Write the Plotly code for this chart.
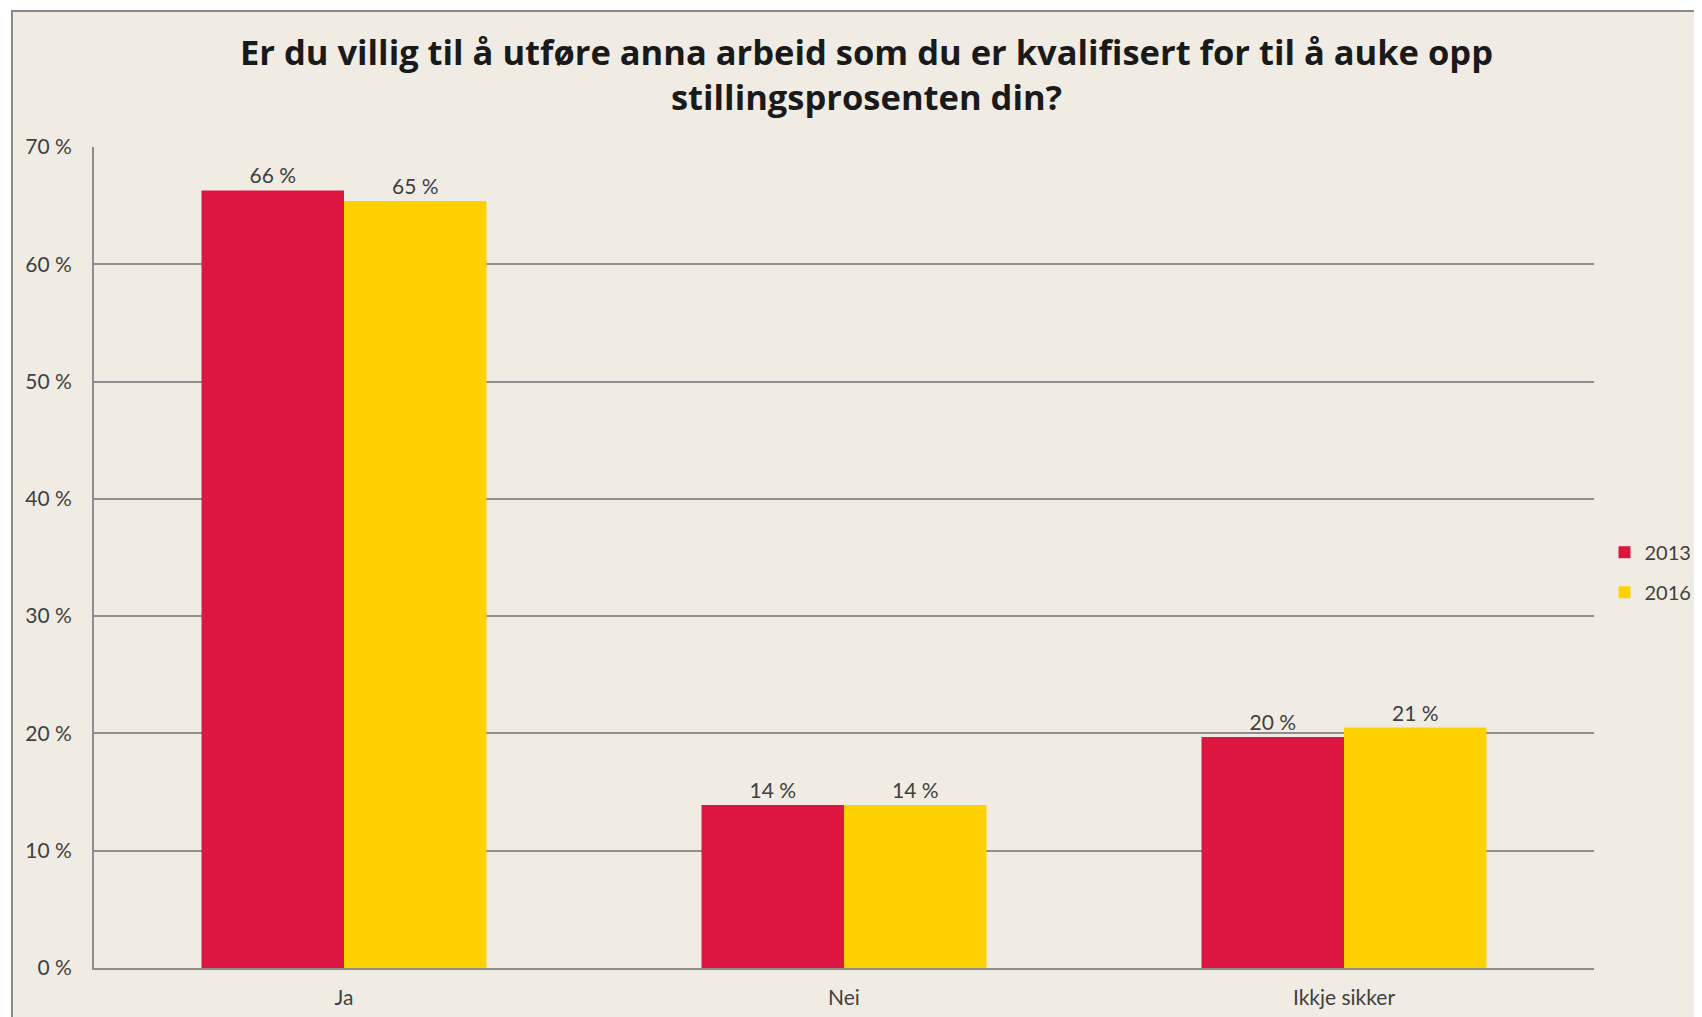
import plotly.graph_objects as go

# --- data ---
categories = ["Ja", "Nei", "Ikkje sikker"]
years = ["2013", "2016"]
values_2013 = [66.3, 13.9, 19.7]
values_2016 = [65.4, 13.9, 20.5]
labels_2013 = ["66 %", "14 %", "20 %"]
labels_2016 = ["65 %", "14 %", "21 %"]
y_ticks = [0, 10, 20, 30, 40, 50, 60, 70]
y_tick_labels = ["0 %", "10 %", "20 %", "30 %", "40 %", "50 %", "60 %", "70 %"]

BG = "#F0ECE4"
GRID = "#8E8E8E"
TEXT = "#404040"
FONT = "Lato"

fig = go.Figure()

fig.add_trace(go.Bar(
    x=categories, y=values_2013, name=years[0], legendgroup="a",
    marker_color="#DC1641", marker_line_width=0,
    text=labels_2013, textposition="outside", cliponaxis=False,
    textfont=dict(family=FONT, size=21, color=TEXT),
))
fig.add_trace(go.Bar(
    x=categories, y=values_2016, name=years[1], legendgroup="b",
    marker_color="#FFD100", marker_line_width=0,
    text=labels_2016, textposition="outside", cliponaxis=False,
    textfont=dict(family=FONT, size=21, color=TEXT),
))

# frame behind the chart (cut off on right / bottom like the original)
fig.add_shape(
    type="rect", xref="paper", yref="paper", layer="below",
    x0=-0.0547, x1=1.2, y0=-0.12, y1=1.1657,
    fillcolor=BG, line=dict(color="#8A8A8A", width=2),
)

# title as an annotation so both lines sit where they should
fig.add_annotation(
    text="<b>Er du villig til å utføre anna arbeid som du er kvalifisert for til å auke opp<br>stillingsprosenten din?</b>",
    xref="paper", yref="paper", x=0.515, y=1.147,
    xanchor="center", yanchor="top", showarrow=False,
    font=dict(family="Open Sans", size=34.5, color="#1A1A1A"),
)

fig.update_layout(
    width=1702, height=1017,
    margin=dict(l=86, r=116, t=139, b=57, autoexpand=False),
    paper_bgcolor="white",
    plot_bgcolor="rgba(0,0,0,0)",
    barmode="group",
    bargap=0.43,
    bargroupgap=0,
    font=dict(family=FONT, color=TEXT),
    legend=dict(
        x=1.007, y=0.482, xanchor="left", yanchor="middle",
        font=dict(family=FONT, size=20, color=TEXT),
        bgcolor="rgba(0,0,0,0)", tracegroupgap=11, traceorder="grouped",
    ),
    showlegend=True,
)

fig.update_yaxes(
    range=[0, 70], tickvals=y_ticks, ticktext=y_tick_labels,
    showgrid=True, gridcolor=GRID, gridwidth=2,
    showline=True, linecolor=GRID, linewidth=2,
    zeroline=False,
    ticks="outside", ticklen=16, tickcolor="rgba(0,0,0,0)",
    tickfont=dict(family=FONT, size=21, color=TEXT),
)
fig.update_xaxes(
    showline=True, linecolor=GRID, linewidth=2,
    ticks="outside", ticklen=10, tickcolor="rgba(0,0,0,0)",
    tickfont=dict(family=FONT, size=21, color=TEXT),
)

fig.write_html("out.html")
